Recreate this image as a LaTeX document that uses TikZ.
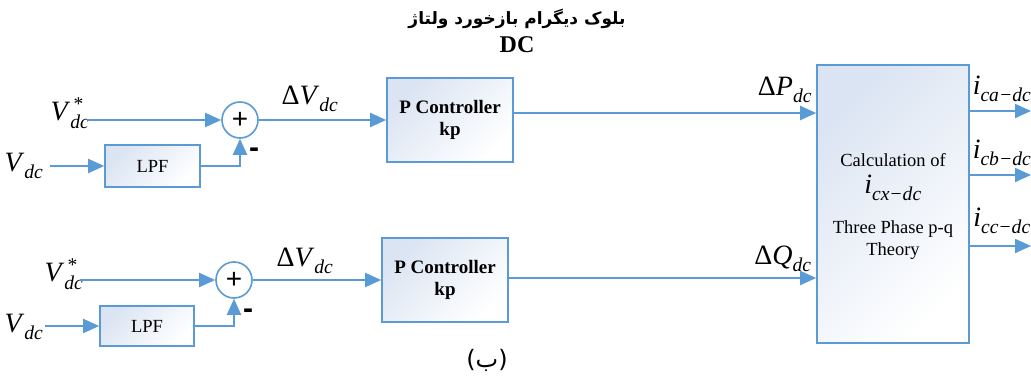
\documentclass[tikz,border=0pt]{standalone}
\usepackage{amsmath}
\usepackage{fontspec}
\setmainfont{Liberation Serif}
\newfontfamily\arabicfont[Script=Arabic]{DejaVu Sans}
\newfontfamily\plusfont{Liberation Sans}
\TeXXeTstate=1
\usetikzlibrary{arrows.meta}
\definecolor{lblue}{RGB}{91,155,213}
\definecolor{fillb}{RGB}{218,228,242}
\newcommand{\sym}[3]{$\text{#1}^{\text{#3}}_{\textit{#2}}$}
\tikzset{
  blk/.style={draw=lblue, line width=1.6pt, top color=fillb, bottom color=white, shading angle=45, inner sep=0pt},
  sumc/.style={circle, draw=lblue, line width=1.6pt, fill=white, minimum size=36pt, inner sep=0pt},
  con/.style={draw=lblue, line width=2pt, -{Triangle[length=16pt,width=14pt]}},
  lab/.style={inner sep=0pt, font=\fontsize{28}{30}\selectfont},
  btxt/.style={font=\fontsize{19}{22}\selectfont\bfseries, align=center},
  ntxt/.style={inner sep=0pt, font=\fontsize{18.5}{20}\selectfont},
  pm/.style={inner sep=0pt, font=\fontsize{28}{30}\selectfont\plusfont},
}
\begin{document}
\begin{tikzpicture}[x=1pt,y=-1pt]
\useasboundingbox (0,0) rectangle (1031,380);
% title
\node[inner sep=0pt, font=\fontsize{17}{19}\selectfont\bfseries] (t1) at (517,19) {\arabicfont\beginR بلوک دیگرام بازخورد ولتاژ\endR};
\node[inner sep=0pt, font=\fontsize{24}{26}\selectfont\bfseries] (t2) at (517,45) {DC};
\node[inner sep=0pt, font=\fontsize{24}{26}\selectfont] (cap) at (487,360) {\arabicfont\beginR(ب)\endR};

% ---------- top row ----------
\node[blk, minimum width=95pt, minimum height=42pt] (lpf1) at (152.5,166) {};
\node[ntxt] at (lpf1) {LPF};
\node[sumc] (s1) at (240,120) {};
\node[pm] at (240,120) {+};
\node[blk, minimum width=126pt, minimum height=84pt] (pc1) at (450,120) {};
\node[btxt] at (pc1) {P Controller\\kp};
\coordinate (vs1) at (87,120);
\coordinate (vd1) at (50,166);
\node[lab] (lvs1) at (70,113) {\sym{\textit{V}}{dc}{\,*}};
\node[lab] (lvd1) at (24,166) {\sym{\textit{V}}{dc}{}};
\draw[con] (vs1) -- (s1.west);
\draw[con] (vd1) -- (lpf1.west);
\draw[con] (lpf1.east) -| (s1.south);
\node[pm, font=\fontsize{30}{30}\selectfont\bfseries\plusfont] at (254,153) {-};
\draw[con] (s1.east) -- (pc1.west |- s1.east);
\node[lab] at (310,99) {\sym{Δ\textit{V}}{dc}{}};

% ---------- bottom row ----------
\node[blk, minimum width=94pt, minimum height=40pt] (lpf2) at (147,326) {};
\node[ntxt] at (lpf2) {LPF};
\node[sumc] (s2) at (234,280) {};
\node[pm] at (234,280) {+};
\node[blk, minimum width=126pt, minimum height=84pt] (pc2) at (445,280) {};
\node[btxt] at (pc2) {P Controller\\kp};
\coordinate (vs2) at (80,280);
\coordinate (vd2) at (45,326);
\node[lab] (lvs2) at (64,274) {\sym{\textit{V}}{dc}{\,*}};
\node[lab] (lvd2) at (24,327) {\sym{\textit{V}}{dc}{}};
\draw[con] (vs2) -- (s2.west);
\draw[con] (vd2) -- (lpf2.west);
\draw[con] (lpf2.east) -| (s2.south);
\node[pm, font=\fontsize{30}{30}\selectfont\bfseries\plusfont] at (248,314) {-};
\draw[con] (s2.east) -- (pc2.west |- s2.east);
\node[lab] at (305,261) {\sym{Δ\textit{V}}{dc}{}};

% ---------- calculation block ----------
\node[blk, minimum width=152pt, minimum height=278pt] (calc) at (893,204) {};
\node[ntxt] at (893,160) {Calculation of};
\node[lab] at (893,188) {\sym{\textit{i}}{cx\text{−}dc}{}};
\node[ntxt] at (893,229) {Three Phase p-q};
\node[ntxt] at (893,251) {Theory};

\coordinate (p1) at (512,113);
\draw[con] (pc1.east |- p1) -- (calc.west |- p1);
\node[lab] at (785,90) {\sym{Δ\textit{P}}{dc}{}};
\coordinate (q1) at (508,278);
\draw[con] (pc2.east |- q1) -- (calc.west |- q1);
\node[lab] at (783,259) {\sym{Δ\textit{Q}}{dc}{}};

\coordinate (oa) at (1031,111);
\coordinate (ob) at (1031,175);
\coordinate (oc) at (1031,246);
\draw[con] (calc.east |- oa) -- (oa);
\draw[con] (calc.east |- ob) -- (ob);
\draw[con] (calc.east |- oc) -- (oc);
\node[lab] at (1002,89) {\sym{\textit{i}}{ca\text{−}dc}{}};
\node[lab] at (1002,153) {\sym{\textit{i}}{cb\text{−}dc}{}};
\node[lab] at (1002,221) {\sym{\textit{i}}{cc\text{−}dc}{}};
\end{tikzpicture}
\end{document}
